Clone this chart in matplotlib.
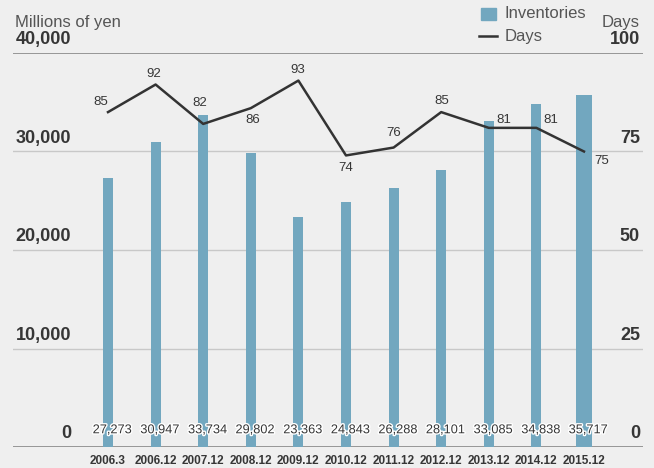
import matplotlib.pyplot as plt
import matplotlib.patheffects as pe
from matplotlib.transforms import blended_transform_factory
from matplotlib.lines import Line2D
from matplotlib.patches import Rectangle

periods = ["2006.3", "2006.12", "2007.12", "2008.12", "2009.12", "2010.12",
           "2011.12", "2012.12", "2013.12", "2014.12", "2015.12"]
inventories = [27273, 30947, 33734, 29802, 23363, 24843,
               26288, 28101, 33085, 34838, 35717]
days = [85, 92, 82, 86, 93, 74, 76, 85, 81, 81, 75]

yen_ticks = [0, 10000, 20000, 30000, 40000]
day_ticks = [0, 25, 50, 75, 100]

# offset of each day label centre from its point, in pixels (dx right, dy up)
day_label_off = [(-7, 10), (-2, 11), (-3, 21), (2, -12), (-1, 11), (0, -12.5),
                 (0, 14.5), (1, 11), (15, 8), (14, 8), (18, -10)]

plt.rcParams["font.family"] = ["Liberation Sans", "DejaVu Sans"]
bg = "#efefef"
bar_col = "#72a7bf"
txt = "#363636"

fig = plt.figure(figsize=(6.54, 4.68), dpi=100, facecolor=bg)
ax = fig.add_axes([13 / 654, 21 / 468, 630 / 654, 394 / 468])
ax.set_facecolor(bg)
for s in ax.spines.values():
    s.set_visible(False)

x = list(range(len(periods)))
widths = [0.21] * (len(periods) - 1) + [0.34]
ax.bar(x, inventories, width=widths, color=bar_col, zorder=2)

ax.set_xlim(-1.996, 11.24)
ax.set_ylim(0, 40000)

for v in yen_ticks:
    col, lw = ("#8f8f8f", 1.3) if v in (0, 40000) else ("#c8c8c8", 1.0)
    ax.axhline(v, color=col, lw=lw, zorder=1)

ax2 = ax.twinx()
ax2.set_ylim(0, 100)
ax2.set_axis_off()
ax2.plot(x, days, color="#333333", lw=1.8, zorder=3)

ax.set_yticks([])
ax.set_xticks(x)
ax.set_xticklabels(periods, fontsize=8.5, fontweight="bold", color=txt)
ax.tick_params(axis="x", length=0, pad=6)

left = blended_transform_factory(ax.transAxes, ax.transData)
for v in yen_ticks:
    ax.text(58 / 630, v + 500, f"{v:,}", transform=left, ha="right", va="bottom",
            fontsize=13, fontweight="bold", color=txt)

right = blended_transform_factory(ax2.transAxes, ax2.transData)
for v in day_ticks:
    ax2.text(627 / 630, v + 1.25, f"{v}", transform=right, ha="right", va="bottom",
             fontsize=13, fontweight="bold", color=txt)

for xi, v in zip(x, inventories):
    ax.annotate(f"{v:,}", (xi, 1700), xytext=(3, 0), textcoords="offset points",
                ha="center", va="center", fontsize=9.2, color=txt, zorder=4,
                path_effects=[pe.withStroke(linewidth=2, foreground="white")])

for xi, d, (dx, dy) in zip(x, days, day_label_off):
    ax2.annotate(f"{d}", (xi, d), xytext=(dx * 0.72, dy * 0.72), textcoords="offset points",
                 ha="center", va="center", fontsize=9.5, color=txt)

# header texts and legend
fig.text(15 / 654, 1 - 22 / 468, "Millions of yen", ha="left", va="center",
         fontsize=12, color="#555555")
fig.text(640 / 654, 1 - 22 / 468, "Days", ha="right", va="center",
         fontsize=12, color="#555555")
fig.patches.append(Rectangle((481 / 654, 1 - 20 / 468), 15 / 654, 12 / 468,
                             transform=fig.transFigure, color=bar_col))
fig.lines.append(Line2D([479 / 654, 497 / 654], [1 - 36 / 468] * 2,
                        transform=fig.transFigure, color="#333333", lw=1.8))
fig.text(505 / 654, 1 - 14 / 468, "Inventories", ha="left", va="center",
         fontsize=12, color="#555555")
fig.text(505 / 654, 1 - 36 / 468, "Days", ha="left", va="center",
         fontsize=12, color="#555555")

fig.savefig("out.png", dpi=100, facecolor=bg)
